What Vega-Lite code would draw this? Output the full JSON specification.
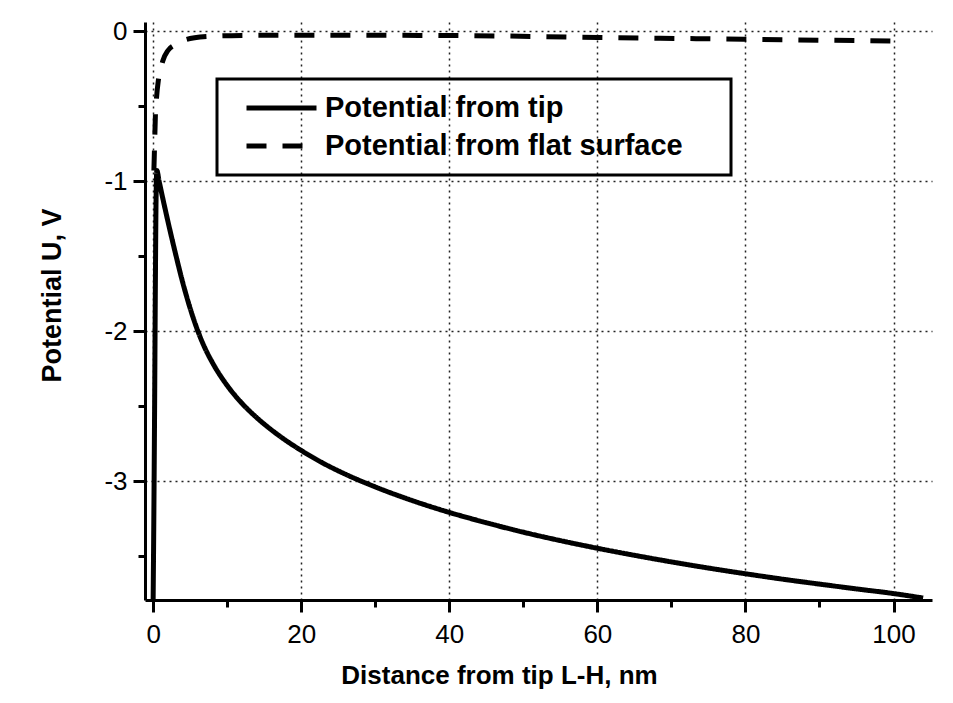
{
  "$schema": "https://vega.github.io/schema/vega-lite/v6.json",
  "autosize": {"type": "none"},
  "width": 787,
  "height": 578,
  "padding": {"left": 145, "top": 22, "right": 21, "bottom": 103},
  "background": "white",
  "config": {
    "view": {"stroke": null},
    "font": "Liberation Sans",
    "axis": {
      "labelFont": "Liberation Sans",
      "titleFont": "Liberation Sans",
      "labelColor": "black",
      "titleColor": "black",
      "domainColor": "black",
      "tickColor": "black"
    }
  },
  "datasets": {
    "curves": [
      {"x": 0.0, "y": -3.79, "s": "Potential from tip"},
      {"x": 0.1, "y": -3.2, "s": "Potential from tip"},
      {"x": 0.2, "y": -2.5, "s": "Potential from tip"},
      {"x": 0.3, "y": -1.7, "s": "Potential from tip"},
      {"x": 0.4, "y": -1.1, "s": "Potential from tip"},
      {"x": 0.5, "y": -0.93, "s": "Potential from tip"},
      {"x": 0.8, "y": -1.0, "s": "Potential from tip"},
      {"x": 1.5, "y": -1.16, "s": "Potential from tip"},
      {"x": 2.0, "y": -1.27, "s": "Potential from tip"},
      {"x": 3.0, "y": -1.48, "s": "Potential from tip"},
      {"x": 4.0, "y": -1.677, "s": "Potential from tip"},
      {"x": 5.0, "y": -1.849, "s": "Potential from tip"},
      {"x": 6.0, "y": -1.995, "s": "Potential from tip"},
      {"x": 7.0, "y": -2.114, "s": "Potential from tip"},
      {"x": 8.0, "y": -2.21, "s": "Potential from tip"},
      {"x": 10.0, "y": -2.363, "s": "Potential from tip"},
      {"x": 12.0, "y": -2.482, "s": "Potential from tip"},
      {"x": 14.0, "y": -2.578, "s": "Potential from tip"},
      {"x": 17.0, "y": -2.697, "s": "Potential from tip"},
      {"x": 20.0, "y": -2.796, "s": "Potential from tip"},
      {"x": 23.0, "y": -2.882, "s": "Potential from tip"},
      {"x": 26.0, "y": -2.955, "s": "Potential from tip"},
      {"x": 30.0, "y": -3.039, "s": "Potential from tip"},
      {"x": 35.0, "y": -3.13, "s": "Potential from tip"},
      {"x": 40.0, "y": -3.209, "s": "Potential from tip"},
      {"x": 45.0, "y": -3.278, "s": "Potential from tip"},
      {"x": 50.0, "y": -3.341, "s": "Potential from tip"},
      {"x": 55.0, "y": -3.397, "s": "Potential from tip"},
      {"x": 60.0, "y": -3.448, "s": "Potential from tip"},
      {"x": 65.0, "y": -3.495, "s": "Potential from tip"},
      {"x": 70.0, "y": -3.539, "s": "Potential from tip"},
      {"x": 75.0, "y": -3.58, "s": "Potential from tip"},
      {"x": 80.0, "y": -3.618, "s": "Potential from tip"},
      {"x": 85.0, "y": -3.654, "s": "Potential from tip"},
      {"x": 90.0, "y": -3.687, "s": "Potential from tip"},
      {"x": 95.0, "y": -3.719, "s": "Potential from tip"},
      {"x": 100.0, "y": -3.75, "s": "Potential from tip"},
      {"x": 104.0, "y": -3.78, "s": "Potential from tip"},
      {"x": 0.1, "y": -0.93, "s": "Potential from flat surface"},
      {"x": 0.2, "y": -0.75, "s": "Potential from flat surface"},
      {"x": 0.3, "y": -0.57, "s": "Potential from flat surface"},
      {"x": 0.45, "y": -0.45, "s": "Potential from flat surface"},
      {"x": 0.7, "y": -0.33, "s": "Potential from flat surface"},
      {"x": 1.0, "y": -0.26, "s": "Potential from flat surface"},
      {"x": 1.3, "y": -0.2, "s": "Potential from flat surface"},
      {"x": 2.0, "y": -0.13, "s": "Potential from flat surface"},
      {"x": 3.0, "y": -0.09, "s": "Potential from flat surface"},
      {"x": 4.0, "y": -0.065, "s": "Potential from flat surface"},
      {"x": 5.6, "y": -0.045, "s": "Potential from flat surface"},
      {"x": 8.0, "y": -0.035, "s": "Potential from flat surface"},
      {"x": 12.0, "y": -0.03, "s": "Potential from flat surface"},
      {"x": 20.0, "y": -0.028, "s": "Potential from flat surface"},
      {"x": 40.0, "y": -0.03, "s": "Potential from flat surface"},
      {"x": 60.0, "y": -0.043, "s": "Potential from flat surface"},
      {"x": 80.0, "y": -0.055, "s": "Potential from flat surface"},
      {"x": 101.6, "y": -0.068, "s": "Potential from flat surface"}
    ]
  },
  "data": {"name": "curves"},
  "layer": [
    {
      "mark": {"type": "line", "strokeWidth": 5, "color": "black", "clip": true, "strokeCap": "butt", "interpolate": "monotone"},
      "encoding": {
        "x": {
          "field": "x", "type": "quantitative",
          "scale": {"domain": [-1.1, 105.2], "nice": false, "zero": false},
          "axis": {
            "orient": "bottom",
            "values": [0, 20, 40, 60, 80, 100],
            "title": "Distance from tip L-H, nm",
            "titleFontSize": 26, "titleFontWeight": "bold",
            "titleAlign": "center", "titleBaseline": "alphabetic",
            "titleX": 354, "titleY": 83,
            "labelFontSize": 26, "labelFontWeight": "normal",
            "labelBaseline": "alphabetic", "labelPadding": 30,
            "domainWidth": 3, "tickWidth": 3, "tickSize": 12,
            "grid": true, "gridDash": [2, 4], "gridColor": "#222", "gridWidth": 1.5
          }
        },
        "y": {
          "field": "y", "type": "quantitative",
          "scale": {"domain": [-3.793, 0.06], "nice": false, "zero": false},
          "axis": {
            "orient": "left",
            "values": [0, -1, -2, -3],
            "labelExpr": "datum.value == 0 ? '0' : '-' + (-datum.value)",
            "title": "Potential U, V",
            "titleFontSize": 27, "titleFontWeight": "bold",
            "titleAlign": "center", "titleBaseline": "middle", "titleAngle": -90,
            "titleX": -93, "titleY": 273,
            "labelFontSize": 26, "labelPadding": 6,
            "domainWidth": 3, "tickWidth": 3, "tickSize": 12,
            "grid": true, "gridDash": [2, 4], "gridColor": "#222", "gridWidth": 1.5
          }
        },
        "strokeDash": {
          "field": "s", "type": "nominal",
          "sort": ["Potential from tip", "Potential from flat surface"],
          "scale": {"domain": ["Potential from tip", "Potential from flat surface"], "range": [[1, 0], [20, 16]]},
          "legend": {
            "orient": "none", "legendX": 72, "legendY": 57,
            "title": "\u00a0", "titleOrient": "right", "titlePadding": 36, "titleFontSize": 12,
            "strokeColor": "black",
            "padding": 12,
            "symbolType": "stroke", "symbolSize": 4900, "symbolStrokeWidth": 5,
            "symbolStrokeColor": "black", "symbolOffset": 15,
            "labelFont": "Liberation Sans", "labelFontSize": 29, "labelFontWeight": "bold",
            "labelColor": "black", "labelOffset": 6, "labelLimit": 800,
            "clipHeight": 34, "rowPadding": 4,
            "encode": {"legend": {"update": {"strokeWidth": {"value": 3}}}}
          }
        },
        "detail": {"field": "s"},
        "order": {"field": "x", "type": "quantitative"}
      }
    },
    {
      "mark": {"type": "line", "opacity": 0},
      "encoding": {
        "x": {
          "field": "x", "type": "quantitative",
          "axis": {
            "orient": "bottom", "values": [10, 30, 50, 70, 90],
            "labels": false, "title": null, "domain": false, "grid": false,
            "tickWidth": 3, "tickSize": 7
          }
        },
        "y": {
          "field": "y", "type": "quantitative",
          "axis": {
            "orient": "left", "values": [-0.5, -1.5, -2.5, -3.5],
            "labels": false, "title": null, "domain": false, "grid": false,
            "tickWidth": 3, "tickSize": 7
          }
        }
      }
    }
  ],
  "resolve": {"axis": {"x": "independent", "y": "independent"}}
}
